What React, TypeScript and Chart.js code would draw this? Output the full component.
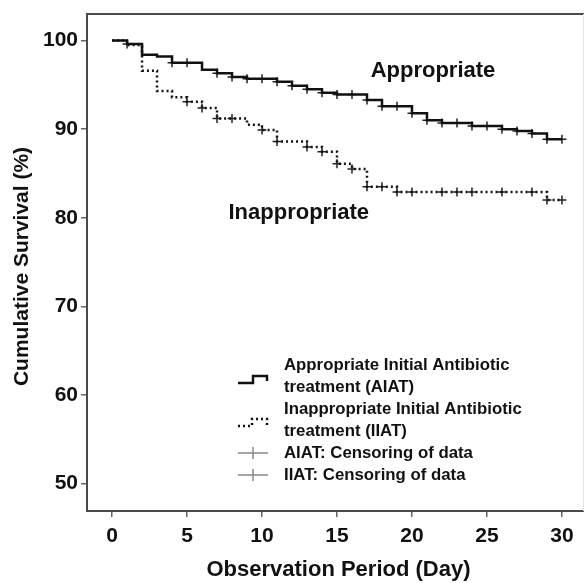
import React, { useEffect, useRef } from "react";
import { Chart, registerables } from "chart.js";

Chart.register(...registerables);

// Kaplan–Meier step data (day, cumulative survival %)
const aiatDays = [0, 1, 2, 3, 4, 6, 7, 8, 9, 11, 12, 13, 14, 15, 17, 18, 20, 21, 22, 24, 26, 27, 28, 29, 30];
const aiatSurv = [100, 99.6, 98.4, 98.2, 97.5, 96.7, 96.3, 95.9, 95.7, 95.35, 94.9, 94.5, 94.1, 93.9, 93.3, 92.6, 91.8, 91.0, 90.7, 90.35, 90.0, 89.8, 89.5, 88.85, 88.85];

const iiatDays = [0, 1, 2, 3, 4, 5, 6, 7, 9, 10, 11, 13, 14, 15, 16, 17, 19, 29, 30];
const iiatSurv = [100, 99.5, 96.6, 94.3, 93.6, 93.1, 92.4, 91.2, 90.5, 89.9, 88.6, 88.0, 87.45, 86.1, 85.5, 83.5, 82.9, 82.0, 82.0];

// Censoring times
const aiatCensorDays = [1, 4, 5, 7, 8, 9, 10, 11, 12, 13, 14, 15, 16, 17, 18, 19, 20, 21, 22, 23, 24, 25, 26, 27, 28, 29, 30];
const iiatCensorDays = [5, 6, 7, 8, 10, 11, 13, 14, 15, 16, 17, 18, 19, 20, 22, 23, 24, 26, 28, 29, 30];

const xTicks = [0, 5, 10, 15, 20, 25, 30];
const yTicks = [50, 60, 70, 80, 90, 100];

const xTitle = "Observation Period (Day)";
const yTitle = "Cumulative Survival (%)";
const curveLabels = [
  { text: "Appropriate", x: 21.4, y: 96.55 },
  { text: "Inappropriate", x: 12.45, y: 80.6 },
];
const legendLines = [
  ["Appropriate Initial Antibiotic", "treatment (AIAT)"],
  ["Inappropriate Initial Antibiotic", "treatment (IIAT)"],
  ["AIAT: Censoring of data"],
  ["IIAT: Censoring of data"],
];

const FONT = "'Liberation Sans', Arial, sans-serif";

function survAt(days: number[], surv: number[], d: number) {
  let v = surv[0];
  for (let i = 0; i < days.length; i++) if (days[i] <= d) v = surv[i];
  return v;
}

const decorPlugin = {
  id: "decor",
  afterDraw(chart: any) {
    const { ctx, chartArea: ca, scales } = chart;
    const xs = scales.x, ys = scales.y;
    ctx.save();
    // frame
    ctx.strokeStyle = "#4a4a4a";
    ctx.lineWidth = 2;
    ctx.beginPath();
    ctx.moveTo(ca.right, ca.top);
    ctx.lineTo(ca.left, ca.top);
    ctx.lineTo(ca.left, ca.bottom);
    ctx.lineTo(ca.right, ca.bottom);
    ctx.stroke();
    ctx.strokeStyle = "#e4e4e4";
    ctx.lineWidth = 1;
    ctx.beginPath();
    ctx.moveTo(ca.right - 0.5, ca.top);
    ctx.lineTo(ca.right - 0.5, ca.bottom);
    ctx.stroke();

    // curve labels
    ctx.fillStyle = "#111";
    ctx.font = `bold 22px ${FONT}`;
    ctx.textAlign = "center";
    ctx.textBaseline = "middle";
    for (const l of curveLabels) {
      ctx.fillText(l.text, xs.getPixelForValue(l.x), ys.getPixelForValue(l.y));
    }

    // axis titles
    ctx.font = `bold 22px ${FONT}`;
    ctx.fillText(xTitle, (ca.left + ca.right) / 2 + 3, 570);
    ctx.save();
    ctx.font = `bold 21px ${FONT}`;
    ctx.translate(22, (ca.top + ca.bottom) / 2 + 4);
    ctx.rotate(-Math.PI / 2);
    ctx.fillText(yTitle, 0, 0);
    ctx.restore();

    // legend
    const tx = 284;
    const lh = 22;
    let y = 365;
    ctx.textAlign = "left";
    ctx.font = `bold 16.8px ${FONT}`;
    const rowY: number[] = [];
    for (const lines of legendLines) {
      rowY.push(y);
      for (const t of lines) {
        ctx.fillText(t, tx, y);
        y += lh;
      }
    }
    // symbol 1: solid step
    ctx.strokeStyle = "#111";
    ctx.lineWidth = 2.5;
    ctx.setLineDash([]);
    ctx.beginPath();
    ctx.moveTo(238, 383);
    ctx.lineTo(253, 383);
    ctx.lineTo(253, 376);
    ctx.lineTo(267, 376);
    ctx.lineTo(267, 381);
    ctx.stroke();
    // symbol 2: dotted step
    ctx.setLineDash([2, 3]);
    ctx.beginPath();
    ctx.moveTo(238, 426);
    ctx.lineTo(252, 426);
    ctx.lineTo(252, 419);
    ctx.lineTo(267, 419);
    ctx.lineTo(267, 425);
    ctx.stroke();
    ctx.setLineDash([]);
    // symbols 3,4: censor crosses (grey)
    ctx.strokeStyle = "#8a8a8a";
    ctx.lineWidth = 1.5;
    for (const cy of [rowY[2], rowY[3]]) {
      ctx.beginPath();
      ctx.moveTo(238, cy);
      ctx.lineTo(268, cy);
      ctx.moveTo(253, cy - 6);
      ctx.lineTo(253, cy + 6);
      ctx.stroke();
    }
    ctx.restore();
  },
};

export default function App() {
  const ref = useRef<HTMLCanvasElement>(null);
  useEffect(() => {
    if (!ref.current) return;
    const aiatLine = aiatDays.map((d, i) => ({ x: d, y: aiatSurv[i] }));
    const iiatLine = iiatDays.map((d, i) => ({ x: d, y: iiatSurv[i] }));
    const aiatCens = aiatCensorDays.map((d) => ({ x: d, y: survAt(aiatDays, aiatSurv, d) }));
    const iiatCens = iiatCensorDays.map((d) => ({ x: d, y: survAt(iiatDays, iiatSurv, d) }));
    const chart = new Chart(ref.current, {
      type: "line",
      data: {
        datasets: [
          {
            label: "AIAT",
            data: aiatLine,
            stepped: true,
            borderColor: "#111",
            borderWidth: 2.5,
            pointRadius: 0,
            fill: false,
          },
          {
            label: "IIAT",
            data: iiatLine,
            stepped: true,
            borderColor: "#111",
            borderWidth: 2.5,
            borderDash: [2, 3],
            pointRadius: 0,
            fill: false,
          },
          {
            label: "AIAT censor",
            data: aiatCens,
            showLine: false,
            pointStyle: "cross",
            pointRadius: 4.5,
            borderWidth: 1.5,
            borderColor: "#222",
            backgroundColor: "#222",
          },
          {
            label: "IIAT censor",
            data: iiatCens,
            showLine: false,
            pointStyle: "cross",
            pointRadius: 4.5,
            borderWidth: 1.5,
            borderColor: "#222",
            backgroundColor: "#222",
          },
        ],
      },
      options: {
        animation: false,
        responsive: false,
        devicePixelRatio: 1,
        layout: { autoPadding: false, padding: { top: 14, right: 1, left: 0, bottom: 0 } },
        plugins: { legend: { display: false }, tooltip: { enabled: false } },
        scales: {
          x: {
            type: "linear",
            min: -1.67,
            max: 31.47,
            afterBuildTicks: (s: any) => {
              s.ticks = xTicks.map((v) => ({ value: v }));
            },
            afterFit: (s: any) => {
              s.height = 72;
              s.paddingLeft = 0;
              s.paddingRight = 0;
            },
            grid: { drawOnChartArea: false, drawTicks: true, tickLength: 6, color: "#666", lineWidth: 1.5 },
            border: { display: false },
            ticks: { font: { family: FONT, size: 21, weight: "bold" }, color: "#111", padding: 7, maxRotation: 0 },
          },
          y: {
            type: "linear",
            min: 46.9,
            max: 103,
            afterBuildTicks: (s: any) => {
              s.ticks = yTicks.map((v) => ({ value: v }));
            },
            afterFit: (s: any) => {
              s.width = 87;
              s.paddingTop = 0;
              s.paddingBottom = 0;
            },
            grid: { drawOnChartArea: false, drawTicks: true, tickLength: 6, color: "#666", lineWidth: 1.5 },
            border: { display: false },
            ticks: { font: { family: FONT, size: 21, weight: "bold" }, color: "#111", padding: 3 },
          },
        },
      },
      plugins: [decorPlugin],
    });
    return () => chart.destroy();
  }, []);
  return (
    <div style={{ position: "absolute", left: 0, top: 0, width: 585, height: 583, background: "#fff" }}>
      <canvas ref={ref} width={585} height={583} />
    </div>
  );
}
